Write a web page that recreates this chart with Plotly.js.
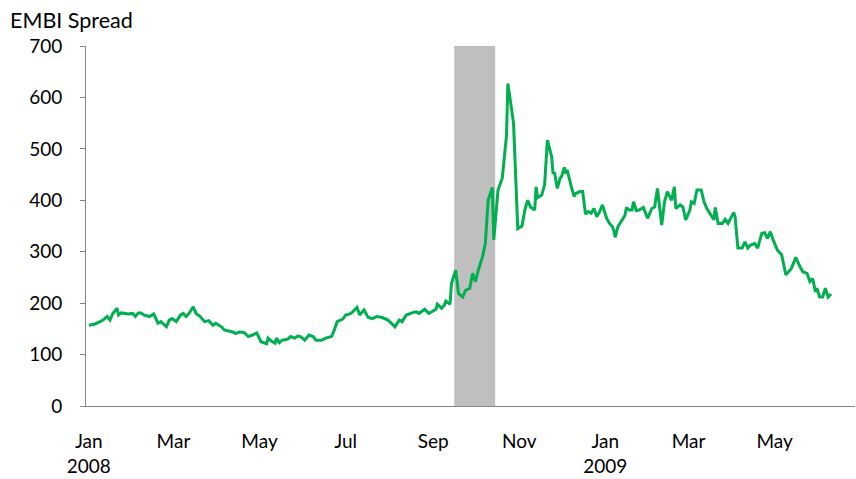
<!DOCTYPE html>
<html>
<head>
<meta charset="utf-8">
<script src="https://cdn.plot.ly/plotly-3.0.1.min.js"></script>
<style>html,body{margin:0;padding:0;background:#fff;}#chart{width:856px;height:479px;}</style>
</head>
<body>
<div id="chart"></div>
<script>
const dates = [
"2008-01-01","2008-01-05","2008-01-09","2008-01-11","2008-01-14","2008-01-16","2008-01-18","2008-01-21","2008-01-22","2008-01-24",
"2008-01-29","2008-02-01","2008-02-03","2008-02-05","2008-02-07","2008-02-09","2008-02-13","2008-02-16","2008-02-19","2008-02-21",
"2008-02-25","2008-02-27","2008-02-29","2008-03-03","2008-03-06","2008-03-08","2008-03-10","2008-03-12","2008-03-15","2008-03-17",
"2008-03-20","2008-03-23","2008-03-26","2008-03-29","2008-03-31","2008-04-04","2008-04-06","2008-04-10","2008-04-12","2008-04-14",
"2008-04-17","2008-04-20","2008-04-23","2008-04-26","2008-04-29","2008-05-02","2008-05-06","2008-05-07","2008-05-09","2008-05-12",
"2008-05-13","2008-05-15","2008-05-17","2008-05-21","2008-05-23","2008-05-26","2008-05-28","2008-05-30","2008-06-02","2008-06-05",
"2008-06-08","2008-06-10","2008-06-14","2008-06-17","2008-06-21","2008-06-23","2008-06-25","2008-06-29","2008-07-01","2008-07-04",
"2008-07-06","2008-07-09","2008-07-11","2008-07-14","2008-07-17","2008-07-20","2008-07-23","2008-07-27","2008-07-31","2008-08-05",
"2008-08-08","2008-08-10","2008-08-13","2008-08-18","2008-08-20","2008-08-22","2008-08-26","2008-08-29","2008-09-03","2008-09-04",
"2008-09-07","2008-09-09","2008-09-10","2008-09-13","2008-09-14","2008-09-17","2008-09-19","2008-09-22","2008-09-24","2008-09-27",
"2008-09-29","2008-10-01","2008-10-03","2008-10-06","2008-10-08","2008-10-10","2008-10-13","2008-10-14","2008-10-17","2008-10-20",
"2008-10-23","2008-10-24","2008-10-28","2008-10-31","2008-11-03","2008-11-05","2008-11-07","2008-11-09","2008-11-12","2008-11-13",
"2008-11-14","2008-11-17","2008-11-19","2008-11-21","2008-11-24","2008-11-25","2008-11-26","2008-11-28","2008-11-30","2008-12-01",
"2008-12-03","2008-12-04","2008-12-05","2008-12-08","2008-12-10","2008-12-11","2008-12-14","2008-12-16","2008-12-18","2008-12-20",
"2008-12-22","2008-12-24","2008-12-26","2008-12-28","2008-12-30","2009-01-02","2009-01-04","2009-01-06","2009-01-07","2009-01-08",
"2009-01-10","2009-01-13","2009-01-15","2009-01-16","2009-01-18","2009-01-20","2009-01-21","2009-01-23","2009-01-25","2009-01-28",
"2009-01-31","2009-02-03","2009-02-05","2009-02-07","2009-02-10","2009-02-12","2009-02-14","2009-02-17","2009-02-19","2009-02-20",
"2009-02-23","2009-02-25","2009-02-27","2009-03-02","2009-03-03","2009-03-05","2009-03-07","2009-03-10","2009-03-12","2009-03-14",
"2009-03-17","2009-03-19","2009-03-20","2009-03-22","2009-03-25","2009-03-27","2009-03-29","2009-03-31","2009-04-02","2009-04-03",
"2009-04-05","2009-04-08","2009-04-10","2009-04-12","2009-04-14","2009-04-17","2009-04-19","2009-04-22","2009-04-24","2009-04-26",
"2009-04-28","2009-04-30","2009-05-03","2009-05-06","2009-05-09","2009-05-13","2009-05-16","2009-05-19","2009-05-21","2009-05-24",
"2009-05-26","2009-05-28","2009-05-30","2009-05-31","2009-06-02","2009-06-04","2009-06-06","2009-06-08","2009-06-10"
];
const spread = [
157,159,164,167,174,167,180,190,177,181,
179,180,174,181,181,177,174,179,161,164,
154,167,170,164,177,180,174,180,193,180,
174,164,166,157,161,154,148,146,144,141,
144,143,135,138,142,125,121,132,127,122,
132,123,128,130,135,132,136,135,128,138,
135,128,128,132,135,148,164,169,177,179,
183,192,177,187,172,170,174,172,167,154,
167,164,177,182,183,180,188,180,188,198,
190,196,204,198,238,264,219,212,225,229,
258,242,264,290,316,400,425,323,420,443,
525,627,550,345,350,381,400,387,381,426,
405,410,430,517,485,452,455,423,443,446,
464,452,459,426,407,413,417,417,373,378,
375,384,368,378,391,365,355,349,342,328,
349,362,371,386,381,381,397,380,381,386,
365,384,387,423,352,397,417,400,426,384,
391,387,362,381,397,394,420,420,397,384,
371,362,386,355,355,363,355,365,376,369,
307,307,319,307,313,316,307,336,337,326,
339,323,303,294,255,268,289,271,261,258,
242,248,222,229,212,212,229,212,218
];
const shadeRange = ["2008-09-16", "2008-10-15"];
const tickDates = ["2008-01-01","2008-03-01","2008-05-01","2008-07-01","2008-09-01","2008-11-01","2009-01-01","2009-03-01","2009-05-01"];
const tickLabels = ["Jan<br>2008","Mar","May","Jul","Sep","Nov","Jan<br>2009","Mar","May"];
const yTicks = [0,100,200,300,400,500,600,700];

const fontFam = "Lato, 'Open Sans', sans-serif";
const trace = {
  x: dates, y: spread, type: 'scatter', mode: 'lines',
  line: {color: '#00B050', width: 3}, hoverinfo: 'skip'
};
const layout = {
  width: 856, height: 479,
  margin: {l: 86, r: 1, t: 46, b: 73},
  paper_bgcolor: '#ffffff', plot_bgcolor: '#ffffff',
  showlegend: false,
  font: {family: fontFam, size: 19, color: '#000'},
  title: {text: 'EMBI Spread', x: 10/856, xanchor: 'left', xref: 'container', y: 0.957, yanchor: 'middle', yref: 'container',
          font: {family: fontFam, size: 21.5, color: '#000'}},
  xaxis: {
    type: 'date', range: ['2007-12-30', '2009-06-27'],
    tickmode: 'array', tickvals: tickDates, ticktext: tickLabels,
    showgrid: false, zeroline: false, showline: true, linecolor: '#868686', linewidth: 1,
    ticks: '', ticklabelstandoff: 18,
    tickfont: {family: fontFam, size: 19, color: '#000'}
  },
  yaxis: {
    range: [0, 700], tickmode: 'array', tickvals: yTicks,
    showgrid: false, zeroline: false, showline: true, linecolor: '#868686', linewidth: 1,
    ticks: 'outside', ticklen: 5, tickcolor: '#868686', ticklabelstandoff: 14,
    tickfont: {family: fontFam, size: 19, color: '#000'}
  },
  shapes: [{
    type: 'rect', xref: 'x', yref: 'paper', x0: shadeRange[0], x1: shadeRange[1], y0: 0, y1: 1,
    fillcolor: '#BFBFBF', line: {width: 0}, layer: 'below'
  }]
};
Plotly.newPlot('chart', [trace], layout, {staticPlot: true, displayModeBar: false});
</script>
</body>
</html>
